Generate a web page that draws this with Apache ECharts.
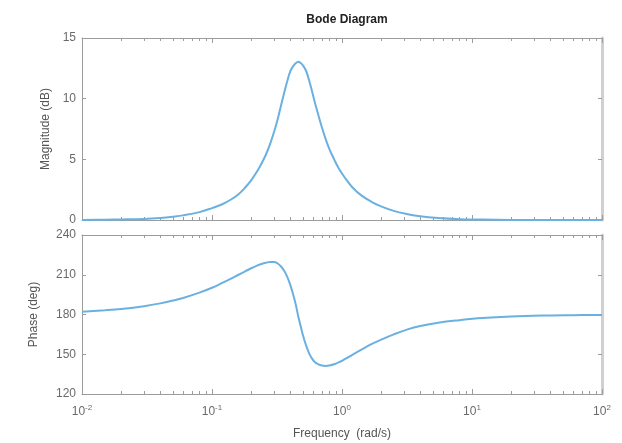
<!DOCTYPE html>
<html>
<head>
<meta charset="utf-8">
<script src="https://cdn.jsdelivr.net/npm/echarts@6/dist/echarts.min.js"></script>
<style>
html, body { margin: 0; padding: 0; background: #fff; }
#chart { width: 622px; height: 443px; }
</style>
</head>
<body>
<div id="chart"></div>
<script>
// frequency (rad/s)
var freqs = [0.01, 0.015, 0.02, 0.03, 0.04, 0.05, 0.06, 0.08, 0.1, 0.12,
  0.14, 0.16, 0.18, 0.2, 0.22, 0.24, 0.26, 0.28, 0.3, 0.32,
  0.34, 0.36, 0.38, 0.40, 0.42, 0.44, 0.461, 0.48, 0.5, 0.53,
  0.56, 0.59, 0.62, 0.66, 0.7, 0.75, 0.8, 0.87, 0.95, 1.05,
  1.2, 1.4, 1.7, 2.0, 2.5, 3.2, 4, 5.5, 8, 12,
  20, 35, 60, 100];
// magnitude (dB)
var magnitude = [0.01, 0.03, 0.045, 0.09, 0.17, 0.27, 0.38, 0.65, 0.98, 1.3,
  1.69, 2.13, 2.68, 3.27, 3.93, 4.64, 5.4, 6.28, 7.25, 8.3,
  9.46, 10.53, 11.48, 12.25, 12.66, 12.92, 13.05, 12.94, 12.75, 12.28,
  11.46, 10.55, 9.65, 8.6, 7.65, 6.65, 5.85, 5.0, 4.2, 3.5,
  2.7, 2.05, 1.48, 1.12, 0.75, 0.48, 0.3, 0.16, 0.07, 0.035,
  0.01, 0, 0, 0];
// phase (deg)
var phase = [182.1, 183.2, 184.2, 186.3, 188.4, 190.5, 192.5, 196.5, 200.2, 203.8,
  207.0, 210.0, 212.6, 214.9, 216.7, 218.1, 219.1, 219.7, 219.7, 218.5,
  216.2, 212.8, 208.2, 202.4, 195.5, 187.9, 178.5, 171.5, 164.5, 156.5,
  150.5, 146.5, 144.0, 142.3, 141.5, 141.2, 141.5, 142.4, 144.0, 146.3,
  149.6, 153.3, 157.8, 161.0, 165.0, 168.8, 171.3, 173.8, 175.7, 177.3,
  178.5, 179.2, 179.5, 179.7];

var decadeTicks = [0.01, 0.1, 1, 10, 100];
var minorTicks = [0.02, 0.03, 0.04, 0.05, 0.06, 0.07, 0.08, 0.09, 0.2, 0.3, 0.4, 0.5, 0.6, 0.7, 0.8, 0.9,
  2, 3, 4, 5, 6, 7, 8, 9, 20, 30, 40, 50, 60, 70, 80, 90];
var magTicks = { min: 0, max: 15, interval: 5 };
var phaseTicks = { min: 120, max: 240, interval: 30 };

var FONT = "'Liberation Sans', Arial, sans-serif";
var AXIS_COLOR = '#9c9c9c';
var TEXT_COLOR = '#6a6a6a';
var LINE_COLOR = '#6ab1e1';

function pairs(ys) {
  return freqs.map(function (f, i) { return [f, ys[i]]; });
}

function xAxisFor(grid, pos, ticks, len, showLine, showLabel) {
  return {
    type: 'log', logBase: 10, min: 0.01, max: 100, gridIndex: grid, position: pos,
    axisLine: { show: showLine, onZero: false, lineStyle: { color: AXIS_COLOR, width: 1 } },
    axisTick: { show: true, inside: true, length: len, customValues: ticks, lineStyle: { color: AXIS_COLOR } },
    axisLabel: {
      show: showLabel, customValues: decadeTicks, margin: 10, color: TEXT_COLOR, fontFamily: FONT, fontSize: 12,
      formatter: function (v) { return '10{e|' + Math.round(Math.log10(v)) + '}'; },
      rich: { e: { fontSize: 8, fontFamily: FONT, color: TEXT_COLOR, padding: [0, 0, 8, 0] } }
    },
    splitLine: { show: false }
  };
}

function yAxisFor(grid, pos, t, showLabel, name, gap) {
  return {
    type: 'value', gridIndex: grid, position: pos, min: t.min, max: t.max, interval: t.interval,
    name: showLabel ? name : '', nameLocation: 'middle', nameGap: gap,
    nameTextStyle: { color: '#555', fontFamily: FONT, fontSize: 12 },
    axisLine: { show: true, lineStyle: pos === 'right' ? { color: '#d0d0d0', width: 3 } : { color: AXIS_COLOR, width: 1 } },
    axisTick: { show: true, inside: true, length: 4, lineStyle: { color: AXIS_COLOR } },
    axisLabel: { show: showLabel, color: TEXT_COLOR, fontFamily: FONT, fontSize: 12, margin: 6 },
    splitLine: { show: false }
  };
}

var chart = echarts.init(document.getElementById('chart'));
var xAxes = [
  xAxisFor(0, 'bottom', decadeTicks, 5, true, false),
  xAxisFor(0, 'top', decadeTicks, 5, true, false),
  xAxisFor(1, 'bottom', decadeTicks, 5, true, true),
  xAxisFor(1, 'top', decadeTicks, 5, true, false),
  xAxisFor(0, 'bottom', minorTicks, 3, false, false),
  xAxisFor(0, 'top', minorTicks, 3, false, false),
  xAxisFor(1, 'bottom', minorTicks, 3, false, false),
  xAxisFor(1, 'top', minorTicks, 3, false, false)
];
xAxes[2].name = 'Frequency  (rad/s)';
xAxes[2].nameLocation = 'middle';
xAxes[2].nameGap = 34;
xAxes[2].nameTextStyle = { color: '#555', fontFamily: FONT, fontSize: 12 };

chart.setOption({
  animation: false,
  title: {
    text: 'Bode Diagram', left: 342, top: 9, textAlign: 'center',
    textStyle: { fontFamily: FONT, fontSize: 12, fontWeight: 'bold', color: '#222' }
  },
  grid: [
    { left: 82, top: 38, width: 520, height: 182 },
    { left: 82, top: 235, width: 520, height: 159 }
  ],
  xAxis: xAxes,
  yAxis: [
    yAxisFor(0, 'left', magTicks, true, 'Magnitude (dB)', 27),
    yAxisFor(0, 'right', magTicks, false, '', 0),
    yAxisFor(1, 'left', phaseTicks, true, 'Phase (deg)', 42),
    yAxisFor(1, 'right', phaseTicks, false, '', 0)
  ],
  series: [
    {
      type: 'line', xAxisIndex: 0, yAxisIndex: 0, data: pairs(magnitude),
      showSymbol: false, smooth: 0.4, clip: true,
      lineStyle: { color: LINE_COLOR, width: 2 }
    },
    {
      type: 'line', xAxisIndex: 2, yAxisIndex: 2, data: pairs(phase),
      showSymbol: false, smooth: 0.4, clip: true,
      lineStyle: { color: LINE_COLOR, width: 2 }
    }
  ]
});
</script>
</body>
</html>
